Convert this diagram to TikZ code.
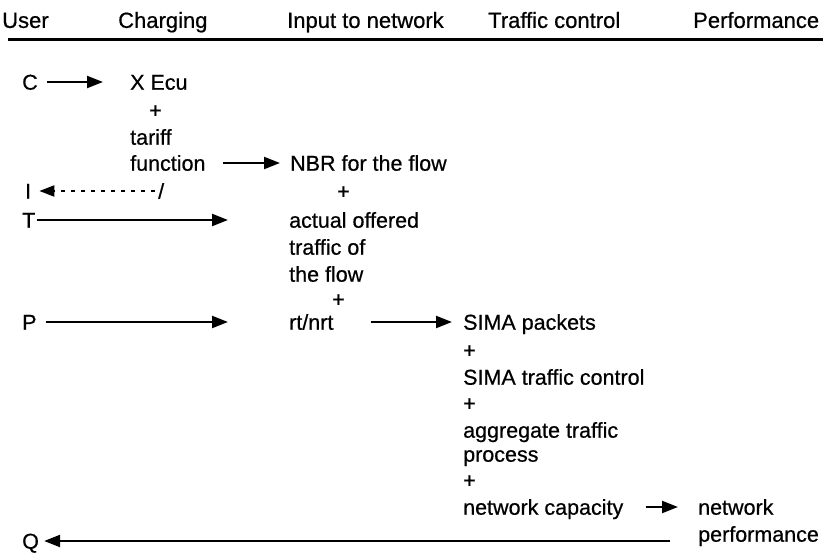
\documentclass[tikz,border=0pt]{standalone}
\usepackage{fontspec}
\setmainfont{Liberation Sans}
\newfontfamily\heavysans{Liberation Sans}[FakeBold=0.6]
\usetikzlibrary{arrows.meta}
\begin{document}
\begin{tikzpicture}[x=1pt,y=-1pt,
  hdr/.style={anchor=west,inner sep=0pt,text height=15.8pt,text depth=0pt,font=\heavysans\fontsize{22}{26}\selectfont},
  txt/.style={anchor=west,inner sep=0pt,text height=15.4pt,text depth=0pt,font=\heavysans\fontsize{21.5}{25}\selectfont},
  arr/.style={line width=2.2pt,-{Triangle[length=16pt,width=12pt]}},
  darr/.style={line width=2.2pt,dash pattern=on 4pt off 6pt,-{Triangle[length=15pt,width=11pt]}}]
\useasboundingbox (0,0) rectangle (823,557);
% header
\node[hdr] (hUser) at (2,20) {User};
\node[hdr] (hCharging) at (118,20) {Charging};
\node[hdr] (hInput) at (287,20) {Input to network};
\node[hdr] (hTraffic) at (488,20) {Traffic control};
\node[hdr] (hPerf) at (693,20) {Performance};
\coordinate (hl1) at (8,39);
\coordinate (hl2) at (823,39);
\draw[line width=3pt] (hl1) -- (hl2);
% user column
\node[txt] (C) at (22,82) {C};
\node[txt] (I) at (25,191) {I};
\node[txt] (T) at (22,220) {T};
\node[txt] (P) at (22,322) {P};
\node[txt] (Q) at (22,541) {Q};
% charging column
\node[txt] (xecu) at (130,82) {X Ecu};
\node[txt] (plus1) at (149,110) {+};
\node[txt] (tariff) at (130,137) {tariff};
\node[txt] (func) at (130,163) {function};
\node[txt] (slash) at (158,191) {/};
% input column
\node[txt] (nbr) at (290,163) {NBR for the flow};
\node[txt] (plus2) at (337,191) {+};
\node[txt] (actual) at (289,220) {actual offered};
\node[txt] (trafof) at (289,247) {traffic of};
\node[txt] (theflow) at (289,274) {the flow};
\node[txt] (plus3) at (332,299) {+};
\node[txt] (rtnrt) at (289,322) {rt/nrt};
% traffic control column
\node[txt] (sima) at (463,322) {SIMA packets};
\node[txt] (plus4) at (463,350) {+};
\node[txt] (simatc) at (463,377) {SIMA traffic control};
\node[txt] (plus5) at (463,403) {+};
\node[txt] (aggr) at (463,430) {aggregate traffic};
\node[txt] (proc) at (463,454) {process};
\node[txt] (plus6) at (463,480) {+};
\node[txt] (cap) at (463,507) {network capacity};
% performance column
\node[txt] (netw) at (698,507) {network};
\node[txt] (perf) at (698,534) {performance};
% connectors
\draw[arr,shorten <=9.5pt,shorten >=27pt] (C) -- (xecu);
\draw[arr,shorten <=17pt,shorten >=10pt] (func) -- (nbr);
\draw[darr,shorten <=3pt,shorten >=8pt] (slash) -- (I);
\draw[arr,shorten <=1pt,shorten >=61pt] (T) -- (actual);
\draw[arr,shorten <=9pt,shorten >=61pt] (P) -- (rtnrt);
\draw[arr,shorten <=37pt,shorten >=11pt] (rtnrt) -- (sima);
\draw[arr,shorten <=22pt,shorten >=20pt] (cap) -- (netw);
\draw[arr] ([xshift=-28pt]perf.west |- Q.east) -- ([xshift=5pt]Q.east);
\end{tikzpicture}
\end{document}
